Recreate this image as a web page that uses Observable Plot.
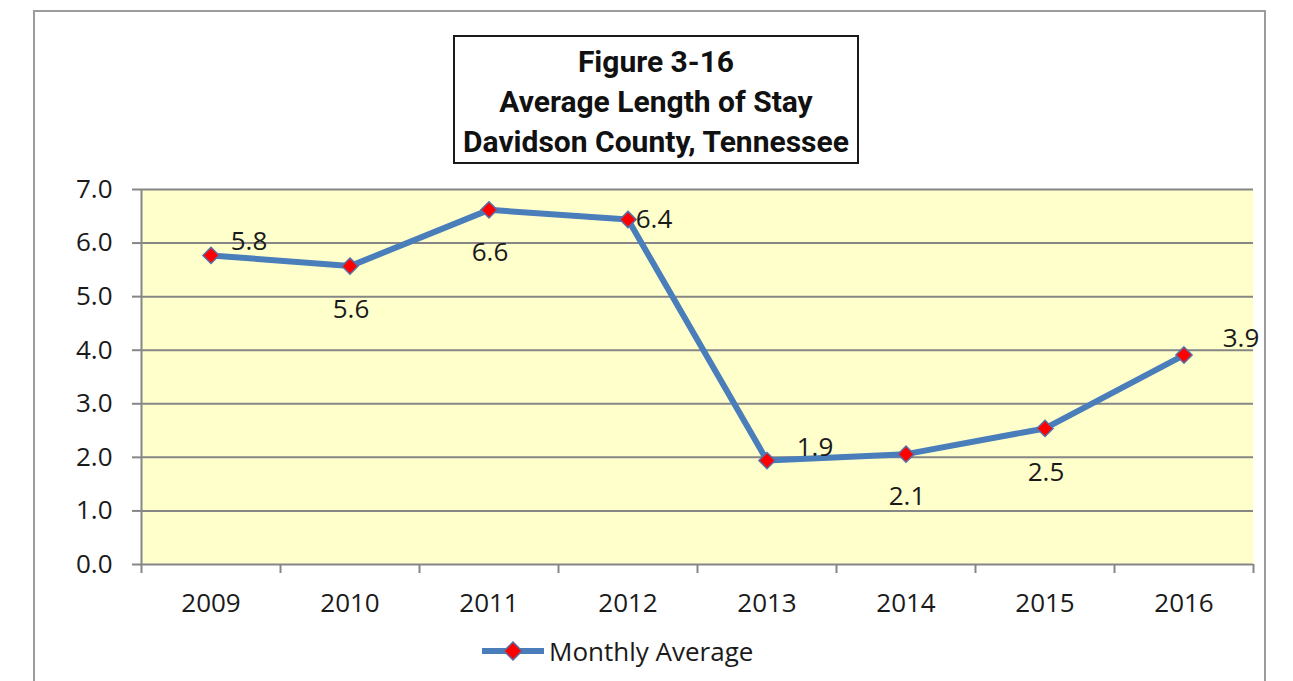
<!DOCTYPE html>
<html><head><meta charset="utf-8">
<script src="https://cdn.jsdelivr.net/npm/d3@7"></script>
<script src="https://cdn.jsdelivr.net/npm/@observablehq/plot@0.6"></script>
<style>
html,body{margin:0;padding:0;background:#fff;}
body{width:1293px;height:681px;overflow:hidden;position:relative;font-family:"Open Sans",sans-serif;}
#chart{position:absolute;left:0;top:0;}
#frame{position:absolute;left:33px;top:10px;width:1233px;height:720px;border:2px solid #9c9c9c;box-sizing:border-box;pointer-events:none;}
#title{position:absolute;left:453px;top:35px;width:406px;height:129px;box-sizing:border-box;border:2.5px solid #1a1a1a;background:#fff;
 font-family:Roboto,sans-serif;font-weight:bold;font-size:30px;line-height:40px;text-align:center;color:#111;padding-top:5px;}
#legend{position:absolute;left:482px;top:633px;height:36px;display:flex;align-items:center;font-size:26px;color:#1a1a1a;}
#legend span{margin-left:5px;}
</style>
</head><body>
<div id="chart"></div>
<div id="frame"></div>
<div id="title"></div>
<div id="legend"></div>
<script>
const titleLines = ["Figure 3-16", "Average Length of Stay", "Davidson County, Tennessee"];
const years = [2009, 2010, 2011, 2012, 2013, 2014, 2015, 2016];
const values = [5.77, 5.57, 6.62, 6.44, 1.94, 2.06, 2.54, 3.91];
const yTicks = [0, 1, 2, 3, 4, 5, 6, 7];
const seriesName = "Monthly Average";

// layout: data label offsets (px) for each point
const labelOffsets = [[38,-14],[1,44],[1,43],[26,0],[48,-13],[1,43],[1,44],[57,-16]];

const lineColor = "#4a7ebb";
const markerFill = "#ff0000";
const markerStroke = "#5b6fa6";
const gridColor = "#868686";

const data = years.map((year, i) => ({year, value: values[i]}));
const boundaries = d3.range(years.length + 1).map(i => years[0] - 0.5 + i);

const chart = Plot.plot({
  width: 1293, height: 681,
  marginLeft: 141, marginRight: 40, marginTop: 189, marginBottom: 117,
  style: {background: "transparent", fontFamily: "'Open Sans', sans-serif", color: "#1a1a1a", overflow: "visible"},
  x: {domain: [boundaries[0], boundaries[boundaries.length - 1]], label: null},
  y: {domain: [0, 7], label: null},
  marks: [
    Plot.frame({fill: "#ffffcc", stroke: null}),
    Plot.ruleY(yTicks, {stroke: gridColor, strokeWidth: 2}),
    Plot.ruleX([boundaries[0]], {stroke: gridColor, strokeWidth: 2}),
    Plot.axisY(yTicks, {tickSize: 9, tickPadding: 20, stroke: gridColor, strokeWidth: 2,
      tickFormat: d3.format(".1f"), fontSize: 26, label: null}),
    Plot.axisX(boundaries, {tickSize: 9, stroke: gridColor, strokeWidth: 2, tickFormat: () => "", label: null}),
    Plot.axisX(years, {tickSize: 0, tickPadding: 29, tickFormat: d => String(d), fontSize: 26, label: null}),
    Plot.line(data, {x: "year", y: "value", stroke: lineColor, strokeWidth: 6, strokeLinejoin: "round"}),
    Plot.dot(data, {x: "year", y: "value", symbol: "diamond2", r: 7.3, fill: markerFill, stroke: markerStroke, strokeWidth: 1.5}),
    ...data.map((d, i) => Plot.text([d], {x: "year", y: "value", text: v => v.value.toFixed(1),
      dx: labelOffsets[i][0], dy: labelOffsets[i][1], fontSize: 26, fill: "#1a1a1a"}))
  ]
});
document.getElementById("chart").appendChild(chart);

document.getElementById("title").innerHTML = titleLines.map(t => `<div>${t}</div>`).join("");

document.getElementById("legend").innerHTML =
  `<svg width="62" height="20" viewBox="0 0 62 20">
     <line x1="1" y1="10" x2="61" y2="10" stroke="${lineColor}" stroke-width="6" stroke-linecap="round"/>
     <path d="M31 1 L40 10 L31 19 L22 10 Z" fill="${markerFill}" stroke="${markerStroke}" stroke-width="1.5"/>
   </svg><span>${seriesName}</span>`;
</script>
</body></html>
